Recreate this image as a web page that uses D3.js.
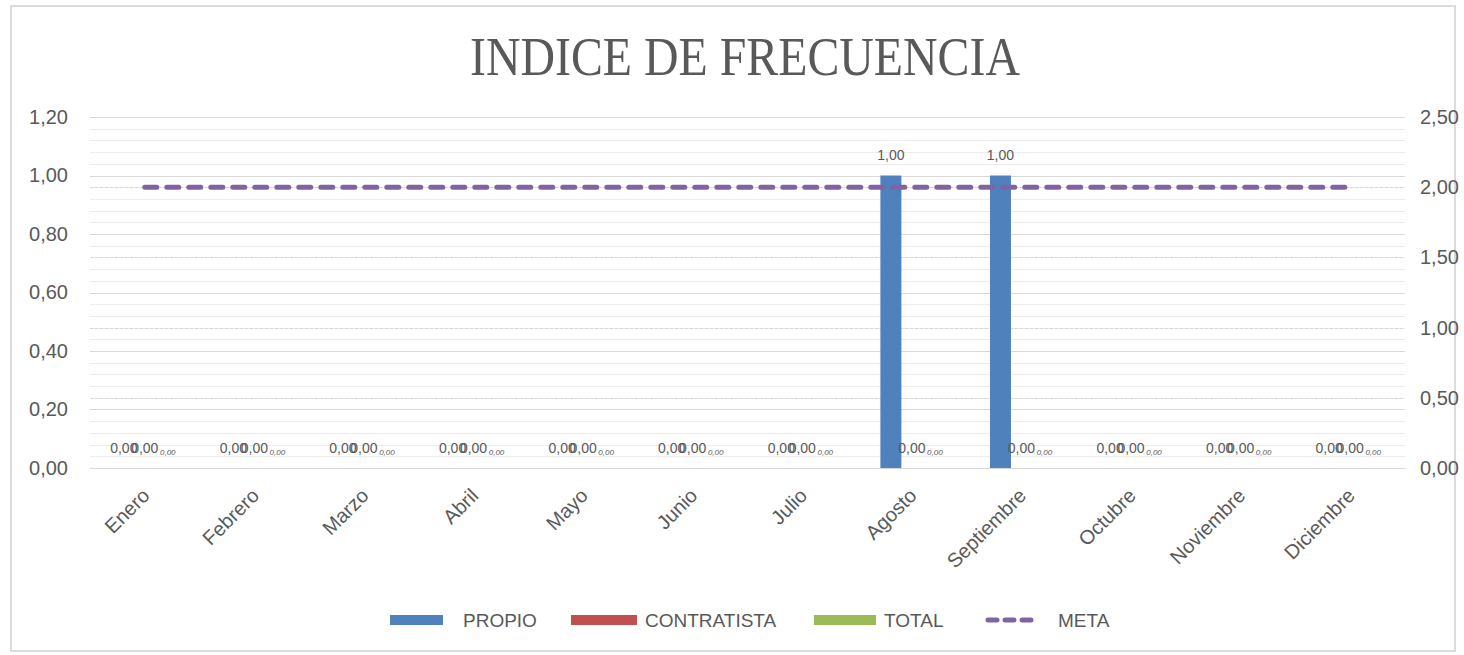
<!DOCTYPE html>
<html>
<head>
<meta charset="utf-8">
<script src="https://cdn.jsdelivr.net/npm/d3@7"></script>
<style>
  body { margin: 0; background: #fff; }
  svg text { font-family: "Liberation Sans", Arial, sans-serif; fill: #595959; }
</style>
</head>
<body>
<div id="chart"></div>
<script>
// data
var meses = ["Enero", "Febrero", "Marzo", "Abril", "Mayo", "Junio", "Julio",
             "Agosto", "Septiembre", "Octubre", "Noviembre", "Diciembre"];
var propio      = [0, 0, 0, 0, 0, 0, 0, 1, 1, 0, 0, 0];
var contratista = [0, 0, 0, 0, 0, 0, 0, 0, 0, 0, 0, 0];
var total       = [0, 0, 0, 0, 0, 0, 0, 0, 0, 0, 0, 0];
var meta        = [2, 2, 2, 2, 2, 2, 2, 2, 2, 2, 2, 2];
var leftTicks  = [0, 0.2, 0.4, 0.6, 0.8, 1.0, 1.2];
var rightTicks = [0, 0.5, 1.0, 1.5, 2.0, 2.5];
var series = ["PROPIO", "CONTRATISTA", "TOTAL"];
var colors = { PROPIO: "#4f81bd", CONTRATISTA: "#c0504d", TOTAL: "#9bbb59", META: "#8064a2" };

var W = 1464, H = 655;
var pLeft = 90, pRight = 1405, pTop = 117, pBottom = 468;

var fmt = function(v) { return d3.format(".2f")(v).replace(".", ","); };

var svg = d3.select("#chart").append("svg")
  .attr("width", W).attr("height", H);

// chart frame
svg.append("rect")
  .attr("x", 11).attr("y", 6).attr("width", 1444).attr("height", 645)
  .attr("fill", "none").attr("stroke", "#dcdcdc").attr("stroke-width", 2);

var x = d3.scaleBand().domain(meses).range([pLeft, pRight]).padding(0);
var xSub = d3.scaleBand().domain(series).range([0, x.bandwidth()])
  .paddingInner(0).paddingOuter(1.11);
var y = d3.scaleLinear().domain([0, 1.2]).range([pBottom, pTop]);
var y2 = d3.scaleLinear().domain([0, 2.5]).range([pBottom, pTop]);

// minor gridlines
svg.append("g").selectAll("line")
  .data(d3.range(0, 1.2001, 0.04))
  .enter().append("line")
  .attr("x1", pLeft).attr("x2", pRight)
  .attr("y1", function(d) { return Math.round(y(d)) + 0.5; })
  .attr("y2", function(d) { return Math.round(y(d)) + 0.5; })
  .attr("stroke", "#ececec");

// secondary gridlines
svg.append("g").selectAll("line")
  .data(rightTicks)
  .enter().append("line")
  .attr("x1", pLeft).attr("x2", pRight)
  .attr("y1", function(d) { return Math.round(y2(d)) + 0.5; })
  .attr("y2", function(d) { return Math.round(y2(d)) + 0.5; })
  .attr("stroke", "#d6d6d6").attr("stroke-dasharray", "3,2");

// major gridlines
svg.append("g").selectAll("line")
  .data(leftTicks)
  .enter().append("line")
  .attr("x1", pLeft).attr("x2", pRight)
  .attr("y1", function(d) { return Math.round(y(d)) + 0.5; })
  .attr("y2", function(d) { return Math.round(y(d)) + 0.5; })
  .attr("stroke", "#d9d9d9");

// left axis
var yAxis = d3.axisLeft(y).tickValues(leftTicks).tickFormat(fmt).tickSize(0).tickPadding(22);
var gl = svg.append("g").attr("transform", "translate(" + pLeft + ",0)").call(yAxis);
gl.select(".domain").remove();
gl.selectAll("text").style("font-size", "20px").attr("fill", "#595959");

// right axis
var y2Axis = d3.axisRight(y2).tickValues(rightTicks).tickFormat(fmt).tickSize(0).tickPadding(15);
var gr = svg.append("g").attr("transform", "translate(" + pRight + ",0)").call(y2Axis);
gr.select(".domain").remove();
gr.selectAll("text").style("font-size", "20px").attr("fill", "#595959");

// x axis labels
var xAxis = d3.axisBottom(x).tickSize(0).tickPadding(0);
var gx = svg.append("g").attr("transform", "translate(0," + pBottom + ")").call(xAxis);
gx.select(".domain").attr("stroke", "#d9d9d9");
gx.selectAll("text")
  .style("font-size", "20px").attr("fill", "#595959")
  .attr("text-anchor", "end")
  .attr("dy", null).attr("y", 0)
  .attr("transform", "translate(6,29) rotate(-45)");

// bars
var rows = meses.map(function(m, i) {
  return { mes: m, PROPIO: propio[i], CONTRATISTA: contratista[i], TOTAL: total[i] };
});

var groups = svg.append("g").selectAll("g")
  .data(rows).enter().append("g")
  .attr("transform", function(d) { return "translate(" + x(d.mes) + ",0)"; });

groups.selectAll("rect")
  .data(function(d) { return series.map(function(s) { return { key: s, value: d[s] }; }); })
  .enter().append("rect")
  .attr("x", function(d) { return xSub(d.key); })
  .attr("width", xSub.bandwidth())
  .attr("y", function(d) { return y(d.value); })
  .attr("height", function(d) { return y(0) - y(d.value); })
  .attr("fill", function(d) { return colors[d.key]; });

// data labels
groups.selectAll("text.lbl")
  .data(function(d) { return series.map(function(s) { return { key: s, value: d[s] }; }); })
  .enter().append("text")
  .attr("class", "lbl")
  .attr("x", function(d) { return xSub(d.key) + xSub.bandwidth() / 2 + (d.key === "TOTAL" ? 2 : 0); })
  .attr("y", function(d) {
    if (d.key === "TOTAL") return y(d.value) - 13;
    return d.value > 0 ? y(d.value) - 16 : y(d.value) - 15;
  })
  .attr("text-anchor", "middle")
  .style("font-size", function(d) { return d.key === "TOTAL" ? "8px" : "14px"; })
  .style("font-style", function(d) { return d.key === "TOTAL" ? "italic" : "normal"; })
  .attr("fill", function(d) { return d.key === "TOTAL" ? "#5b6f9a" : "#404040"; })
  .text(function(d) { return fmt(d.value); });

// meta line
var line = d3.line()
  .x(function(d, i) { return x(meses[i]) + x.bandwidth() / 2; })
  .y(function(d) { return y2(d); });

svg.append("path")
  .datum(meta)
  .attr("d", line)
  .attr("fill", "none")
  .attr("stroke", colors.META)
  .attr("stroke-width", 5)
  .attr("stroke-linecap", "round")
  .attr("stroke-dasharray", "12,10");

// title
svg.append("text")
  .attr("x", 745).attr("y", 75)
  .attr("text-anchor", "middle")
  .attr("textLength", 550).attr("lengthAdjust", "spacingAndGlyphs")
  .style("font-family", "'Liberation Serif', 'DejaVu Serif', serif")
  .style("font-size", "54px")
  .attr("fill", "#595959")
  .text("INDICE DE FRECUENCIA");

// legend
var legendItems = [
  { key: "PROPIO", x: 390, w: 53 },
  { key: "CONTRATISTA", x: 571, w: 66 },
  { key: "TOTAL", x: 814, w: 62 },
  { key: "META", x: 985, w: 50 }
];
var lg = svg.append("g");
legendItems.forEach(function(it) {
  if (it.key === "META") {
    lg.append("line")
      .attr("x1", it.x + 3).attr("x2", it.x + it.w - 3)
      .attr("y1", 620).attr("y2", 620)
      .attr("stroke", colors.META).attr("stroke-width", 5)
      .attr("stroke-linecap", "round").attr("stroke-dasharray", "9,8");
  } else {
    lg.append("rect")
      .attr("x", it.x).attr("y", 615).attr("width", it.w).attr("height", 10)
      .attr("fill", colors[it.key]);
  }
  lg.append("text")
    .attr("x", it.x + it.w + (it.key === "META" ? 23 : 8 + (it.key === "PROPIO" ? 12 : 0)))
    .attr("y", 627)
    .style("font-size", "19px")
    .attr("fill", "#595959")
    .text(it.key);
});
</script>
</body>
</html>
